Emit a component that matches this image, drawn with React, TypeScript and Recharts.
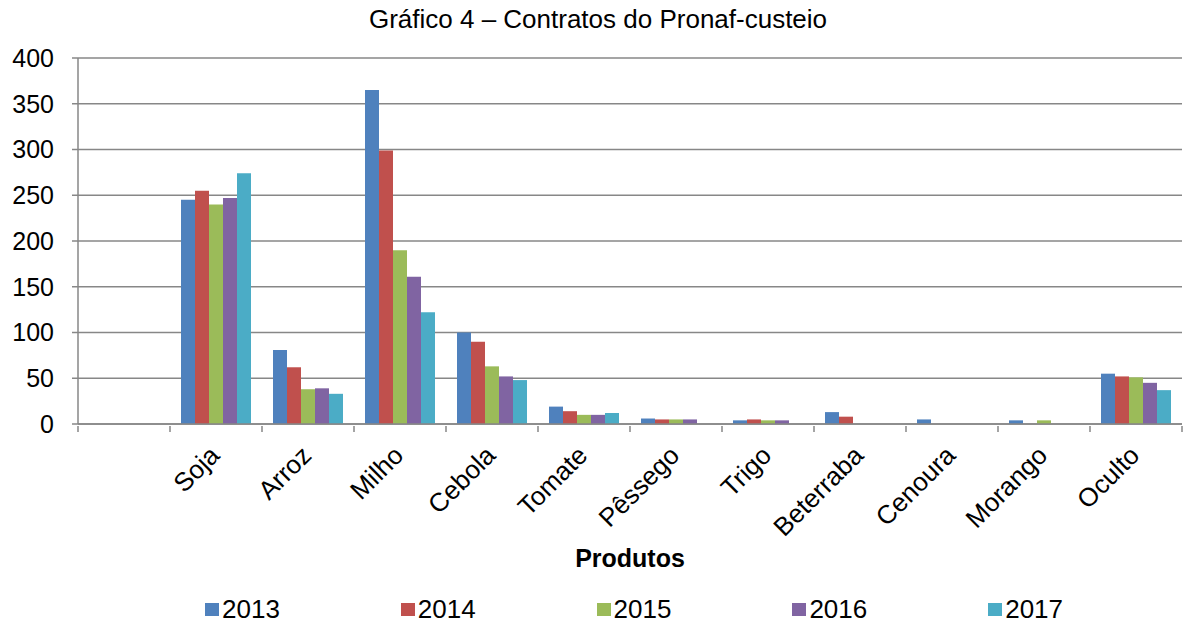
import React from 'react';
import { BarChart, Bar, XAxis, YAxis, CartesianGrid, Legend } from 'recharts';

// categorias (a primeira fica vazia no gráfico original)
const produtos = ['', 'Soja', 'Arroz', 'Milho', 'Cebola', 'Tomate', 'Pêssego', 'Trigo', 'Beterraba', 'Cenoura', 'Morango', 'Oculto'];

const anos = ['2013', '2014', '2015', '2016', '2017'];
const cores = ['#4F81BD', '#C0504D', '#9BBB59', '#8064A2', '#4BACC6'];

const v2013 = [null, 245, 81, 365, 100, 19, 6, 4, 13, 5, 4, 55];
const v2014 = [null, 255, 62, 299, 90, 14, 5, 5, 8, 0, 0, 52];
const v2015 = [null, 240, 38, 190, 63, 10, 5, 4, 0, 0, 4, 51];
const v2016 = [null, 247, 39, 161, 52, 10, 5, 4, 0, 0, 0, 45];
const v2017 = [null, 274, 33, 122, 48, 12, 0, 0, 0, 0, 0, 37];

const yTicks = [0, 50, 100, 150, 200, 250, 300, 350, 400];

const series = [v2013, v2014, v2015, v2016, v2017];

const data = produtos.map((nome, i) => {
    const row: Record<string, string | number | null> = { nome };
    anos.forEach((ano, s) => {
        row[ano] = series[s][i];
    });
    return row;
});

const FONT = '"Liberation Sans", Arial, sans-serif';
const GRAY = '#878787';
const BAND = 92; // largura de cada categoria em px

const ProdutoTick = (props: any) => {
    const { x, y, payload, index } = props;
    const last = index === produtos.length - 1;
    return (
        <g>
            <line x1={x - BAND / 2} y1={y} x2={x - BAND / 2} y2={y + 6} stroke={GRAY} strokeWidth={1.5} />
            {last && <line x1={x + BAND / 2} y1={y} x2={x + BAND / 2} y2={y + 6} stroke={GRAY} strokeWidth={1.5} />}
            <text
                x={x + 5}
                y={y + 31}
                transform={`rotate(-45, ${x + 5}, ${y + 31})`}
                textAnchor="end"
                fontSize={26}
                fontFamily={FONT}
                fill="#000"
            >
                {payload.value}
            </text>
        </g>
    );
};

const Legenda = () => (
    <div style={{ height: 40, display: 'flex', alignItems: 'center', paddingLeft: 205, paddingTop: 8, boxSizing: 'border-box', fontFamily: FONT }}>
        {anos.map((ano, i) => (
            <div key={ano} style={{ width: 198, display: 'flex', alignItems: 'center' }}>
                <span style={{ display: 'inline-block', width: 14, height: 13, background: cores[i], marginRight: 3 }} />
                <span style={{ fontSize: 26, color: '#000', lineHeight: '26px' }}>{ano}</span>
            </div>
        ))}
    </div>
);

export default function App() {
    return (
        <div style={{ position: 'absolute', left: 0, top: 0, width: 1184, height: 625, background: '#fff' }}>
            <div style={{ position: 'absolute', left: 0, top: 6, width: 1196, textAlign: 'center', fontFamily: FONT, fontSize: 26, lineHeight: '26px', color: '#000' }}>
                Gráfico 4 – Contratos do Pronaf-custeio
            </div>
            <BarChart
                width={1184}
                height={625}
                data={data}
                margin={{ top: 58, right: 2, left: 0, bottom: 0 }}
                barCategoryGap={11}
                barGap={0}
            >
                <CartesianGrid vertical={false} stroke={GRAY} strokeWidth={1.5} />
                <XAxis
                    dataKey="nome"
                    height={161}
                    interval={0}
                    tickSize={0}
                    tickLine={false}
                    axisLine={{ stroke: GRAY, strokeWidth: 1.5 }}
                    tick={<ProdutoTick />}
                    label={{ value: 'Produtos', position: 'insideBottom', offset: 18, fontSize: 25, fontWeight: 'bold', fill: '#000', fontFamily: FONT }}
                />
                <YAxis
                    width={78}
                    domain={[0, 400]}
                    ticks={yTicks}
                    interval={0}
                    tickSize={6}
                    tickMargin={18}
                    axisLine={{ stroke: GRAY, strokeWidth: 1.5 }}
                    tickLine={{ stroke: GRAY, strokeWidth: 1.5 }}
                    tick={{ fontSize: 25, fill: '#000', fontFamily: FONT }}
                />
                <Legend verticalAlign="bottom" content={<Legenda />} wrapperStyle={{ left: 0, width: 1184 }} />
                {anos.map((ano, i) => (
                    <Bar key={ano} dataKey={ano} fill={cores[i]} isAnimationActive={false} />
                ))}
            </BarChart>
        </div>
    );
}
